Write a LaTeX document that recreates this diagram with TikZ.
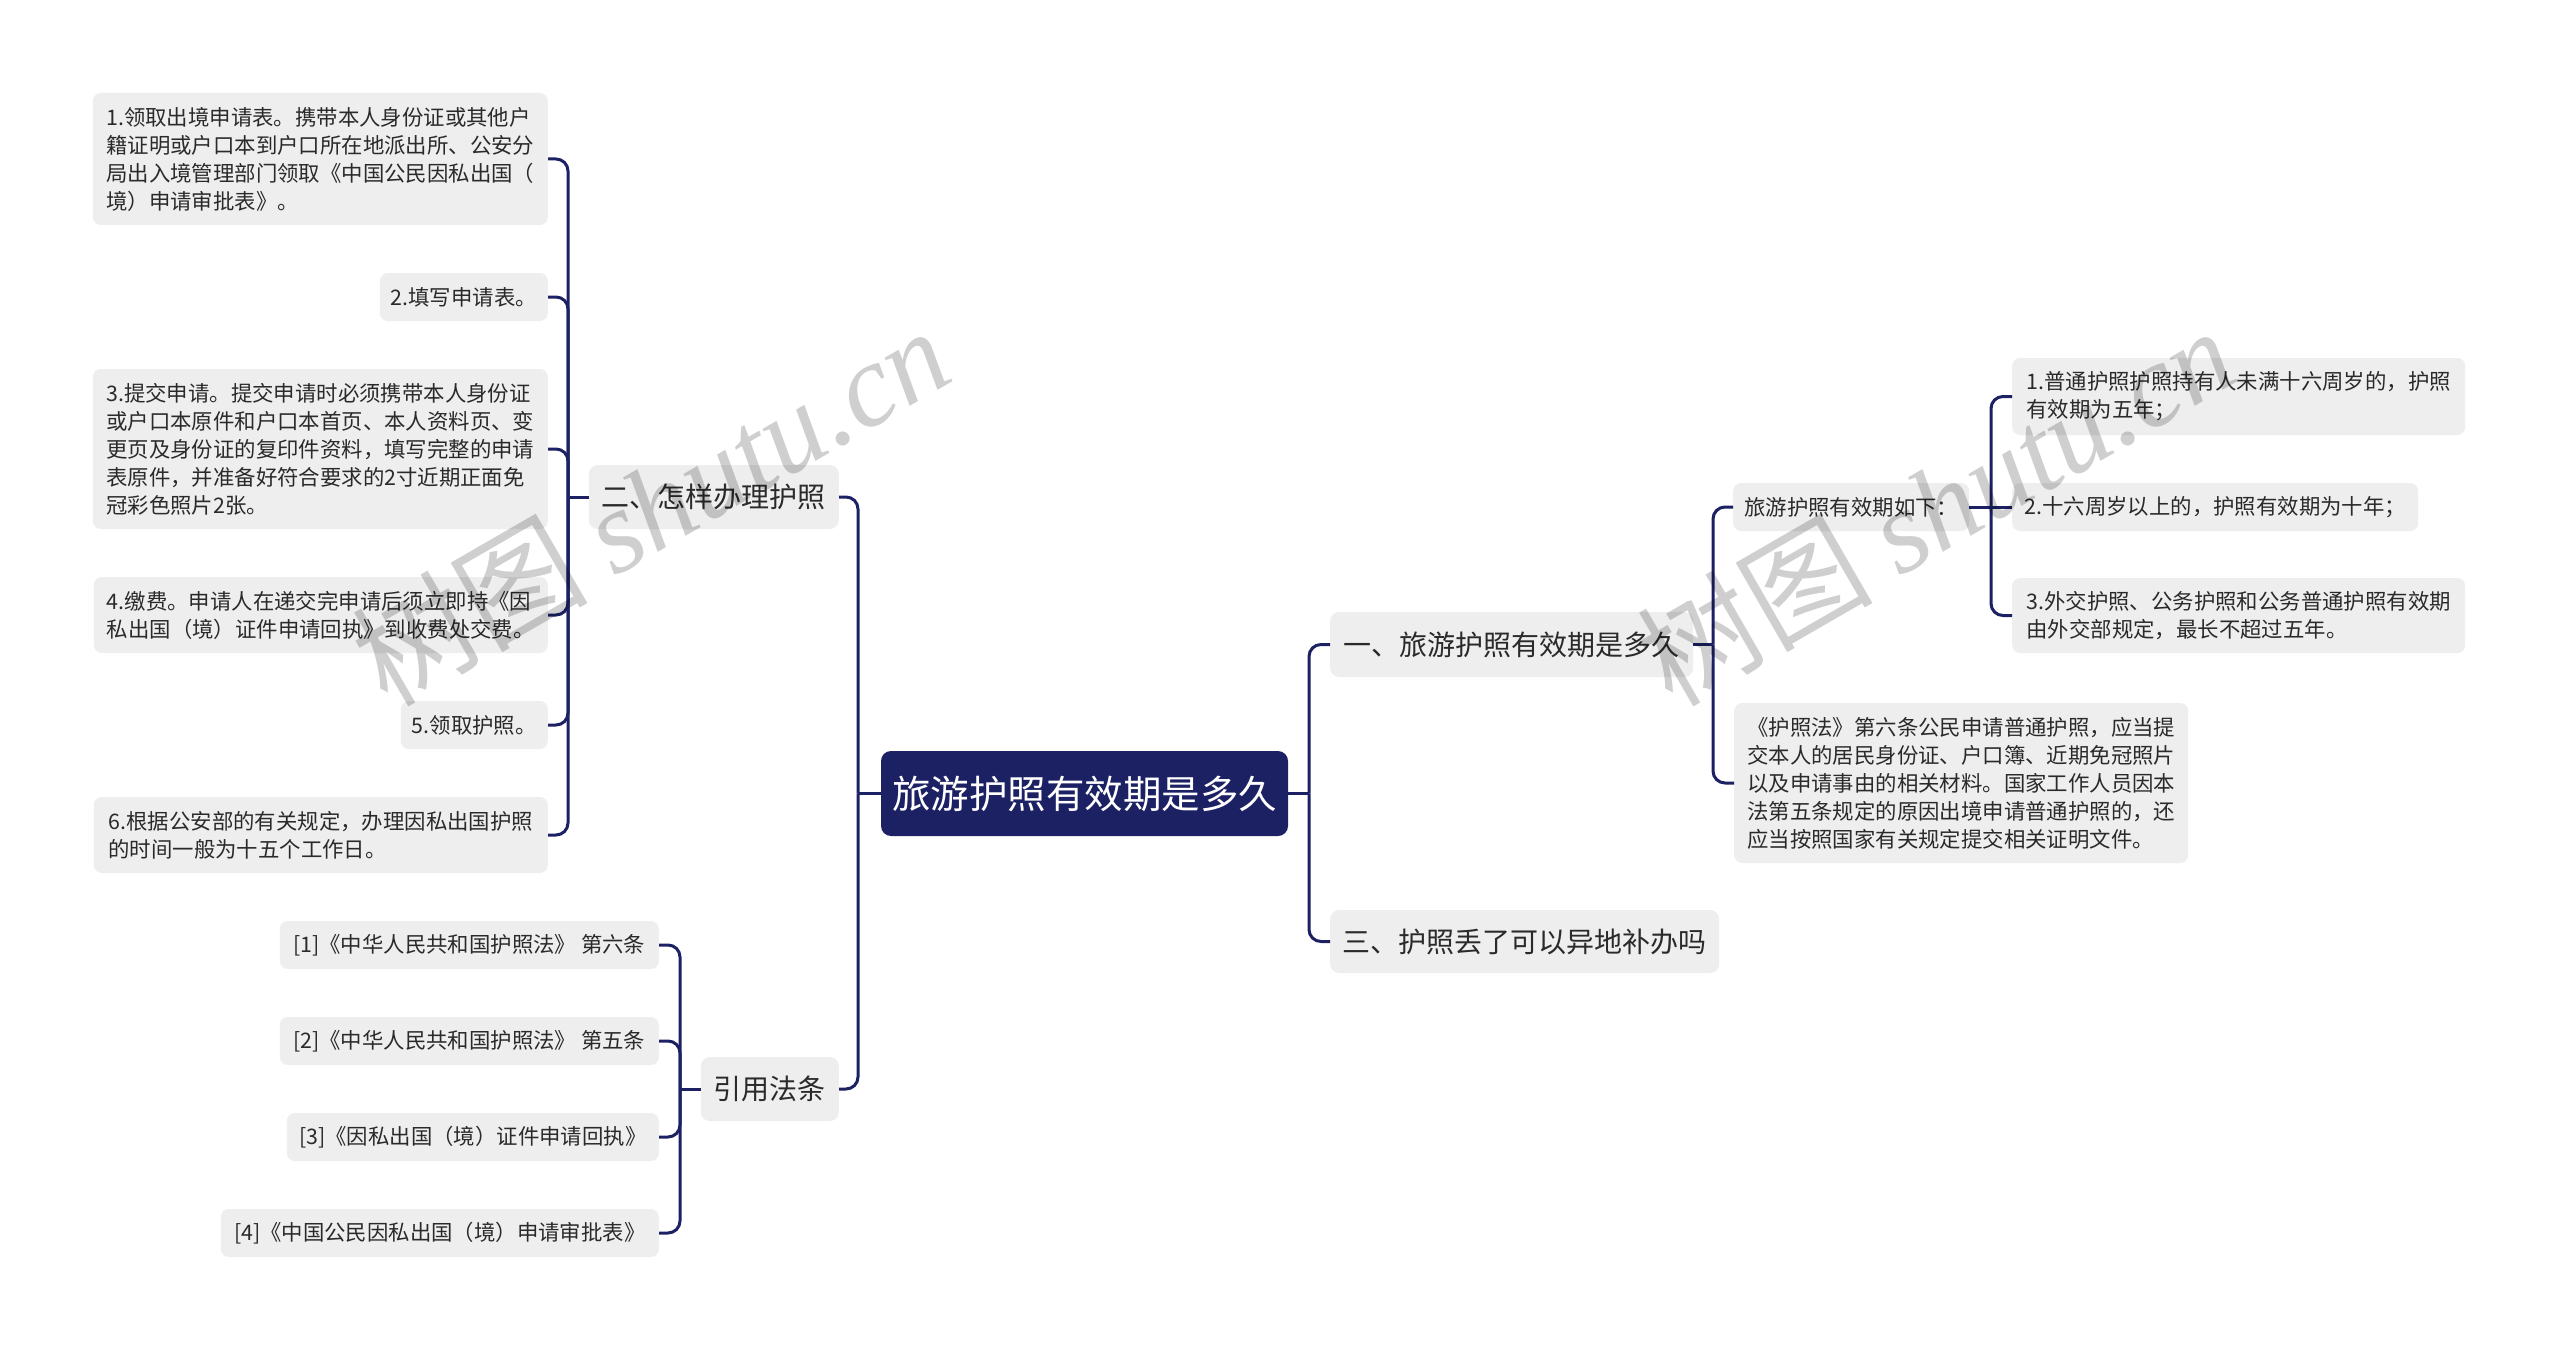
\documentclass[tikz,border=0pt]{standalone}
\usepackage{fontspec}
\setmainfont{Noto Sans CJK SC}
\newfontfamily\wmserif{Liberation Serif}
\definecolor{navy}{HTML}{1B2163}
\definecolor{boxgray}{HTML}{EEEEEE}
\definecolor{txt}{HTML}{2A2A2A}
\begin{document}
\begin{tikzpicture}[x=1pt,y=-1pt,
  leaf/.style={fill=boxgray, rounded corners=8pt, text=txt, align=left, inner sep=0pt,
    font=\fontsize{21.4}{28}\selectfont},
  lvl/.style={fill=boxgray, rounded corners=9pt, text=txt, align=left, inner sep=0pt,
    font=\fontsize{28}{34}\selectfont},
  rootbox/.style={fill=navy, rounded corners=10pt, text=white, inner sep=0pt,
    font=\fontsize{38.5}{46}\selectfont},
  conn/.style={draw=navy, line width=3pt, rounded corners=12pt},
  wm/.style={text=black, opacity=0.19, rotate=30, inner sep=0pt}]

\useasboundingbox (0,0) rectangle (2560,1351);
\fill[white] (0,0) rectangle (2560,1351);

% root
\node[rootbox, minimum width=407pt, minimum height=85pt] (root) at (1084.5,793.5) {旅游护照有效期是多久};

% right level 1
\node[lvl, anchor=west, minimum width=363pt, minimum height=65pt] (A1) at (1330,644.5) {一、旅游护照有效期是多久};
\node[lvl, anchor=west, minimum width=389pt, minimum height=63pt] (A3) at (1330,941.5) {三、护照丢了可以异地补办吗};

% left level 1
\node[lvl, anchor=east, minimum width=250pt, minimum height=64pt] (B2) at (839,497) {二、怎样办理护照};
\node[lvl, anchor=east, minimum width=138pt, minimum height=64pt] (B4) at (839,1089) {引用法条};

% right leaves
\node[leaf, anchor=west, minimum width=236pt, minimum height=48pt] (R1) at (1733,507) {旅游护照有效期如下：};
\node[leaf, anchor=west, minimum width=454pt, minimum height=160pt] (R2) at (1734,783) {《护照法》第六条公民申请普通护照，应当提\\交本人的居民身份证、户口簿、近期免冠照片\\以及申请事由的相关材料。国家工作人员因本\\法第五条规定的原因出境申请普通护照的，还\\应当按照国家有关规定提交相关证明文件。};
\node[leaf, anchor=west, minimum width=453pt, minimum height=77pt] (R11) at (2012,396.5) {1.普通护照护照持有人未满十六周岁的，护照\\有效期为五年；};
\node[leaf, anchor=west, minimum width=406pt, minimum height=48pt] (R12) at (2012,507) {2.十六周岁以上的，护照有效期为十年；};
\node[leaf, anchor=west, minimum width=453pt, minimum height=75pt] (R13) at (2012,615.5) {3.外交护照、公务护照和公务普通护照有效期\\由外交部规定，最长不超过五年。};

% left leaves
\node[leaf, anchor=east, minimum width=455pt, minimum height=132pt] (L1) at (548,159) {1.领取出境申请表。携带本人身份证或其他户\\籍证明或户口本到户口所在地派出所、公安分\\局出入境管理部门领取《中国公民因私出国（\\境）申请审批表》。};
\node[leaf, anchor=east, minimum width=168pt, minimum height=48pt] (L2) at (548,297) {2.填写申请表。};
\node[leaf, anchor=east, minimum width=455pt, minimum height=160pt] (L3) at (548,449) {3.提交申请。提交申请时必须携带本人身份证\\或户口本原件和户口本首页、本人资料页、变\\更页及身份证的复印件资料，填写完整的申请\\表原件，并准备好符合要求的2寸近期正面免\\冠彩色照片2张。};
\node[leaf, anchor=east, minimum width=454pt, minimum height=76pt] (L4) at (548,615) {4.缴费。申请人在递交完申请后须立即持《因\\私出国（境）证件申请回执》到收费处交费。};
\node[leaf, anchor=east, minimum width=147pt, minimum height=48pt] (L5) at (548,725) {5.领取护照。};
\node[leaf, anchor=east, minimum width=454pt, minimum height=76pt] (L6) at (548,835) {6.根据公安部的有关规定，办理因私出国护照\\的时间一般为十五个工作日。};

% references
\node[leaf, anchor=east, minimum width=379pt, minimum height=48pt] (F1) at (659,945) {[1]《中华人民共和国护照法》 第六条};
\node[leaf, anchor=east, minimum width=379pt, minimum height=48pt] (F2) at (659,1041) {[2]《中华人民共和国护照法》 第五条};
\node[leaf, anchor=east, minimum width=372pt, minimum height=48pt] (F3) at (659,1137) {[3]《因私出国（境）证件申请回执》};
\node[leaf, anchor=east, minimum width=438pt, minimum height=48pt] (F4) at (659,1233) {[4]《中国公民因私出国（境）申请审批表》};

% junction coordinates
\coordinate (jL) at (858,793.5);
\coordinate (jR) at (1309,793.5);
\coordinate (jA1) at (1713,644.5);
\coordinate (jR1) at (1991,507);
\coordinate (jB2) at (568,497);
\coordinate (jB4) at (680,1089);

% root connectors
\draw[conn] (root.west) -- (jL);
\draw[conn] (root.east) -- (jR);
\draw[conn] (jL) -- (jL |- B2) -- (B2.east);
\draw[conn] (jL) -- (jL |- B4) -- (B4.east);
\draw[conn] (jR) -- (jR |- A1) -- (A1.west);
\draw[conn] (jR) -- (jR |- A3) -- (A3.west);

% A1 branch
\draw[conn] (A1.east) -- (jA1);
\draw[conn] (jA1) -- (jA1 |- R1) -- (R1.west);
\draw[conn] (jA1) -- (jA1 |- R2) -- (R2.west);

% R1 branch
\draw[conn] (R1.east) -- (jR1);
\draw[conn] (jR1) -- (jR1 |- R11) -- (R11.west);
\draw[conn] (jR1) -- (R12.west);
\draw[conn] (jR1) -- (jR1 |- R13) -- (R13.west);

% B2 branch
\draw[conn] (B2.west) -- (jB2);
\foreach \n in {L1,L2,L3,L4,L5,L6} {
  \draw[conn] (jB2) -- (jB2 |- \n) -- (\n.east);
}

% B4 branch
\draw[conn] (B4.west) -- (jB4);
\foreach \n in {F1,F2,F3,F4} {
  \draw[conn] (jB4) -- (jB4 |- \n) -- (\n.east);
}

% watermarks
\node[wm] (wm1) at (650,505) {\fontsize{118}{118}\selectfont 树图 {\wmserif\itshape shutu.cn}};
\node[wm] (wm2) at (1935,505) {\fontsize{118}{118}\selectfont 树图 {\wmserif\itshape shutu.cn}};
\end{tikzpicture}
\end{document}
